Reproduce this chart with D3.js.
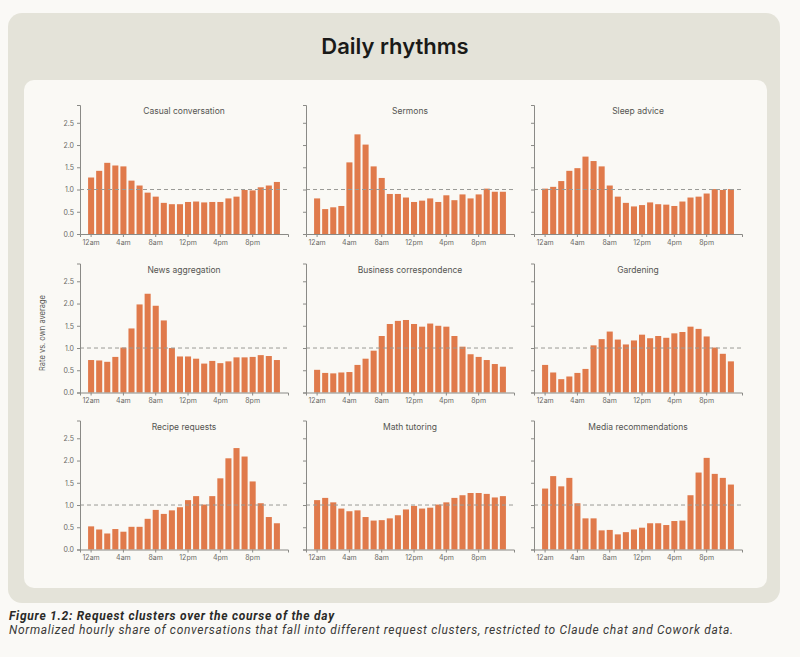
<!DOCTYPE html>
<html>
<head>
<meta charset="utf-8">
<script src="https://cdn.jsdelivr.net/npm/d3@7"></script>
<style>
  body { margin: 0; background: #faf9f6; }
  svg { display: block; }
</style>
</head>
<body>
<svg id="chart" width="800" height="657"></svg>
<script>
// hourly rate vs. own average, 12am .. 11pm
const hourTicks = [0, 4, 8, 12, 16, 20];
const hourLabels = ['12am', '4am', '8am', '12pm', '4pm', '8pm'];
const yTicks = [0, 0.5, 1, 1.5, 2, 2.5];

const clusterNames = [
    'Casual conversation', 'Sermons', 'Sleep advice',
    'News aggregation', 'Business correspondence', 'Gardening',
    'Recipe requests', 'Math tutoring', 'Media recommendations'
];

const casualConversation = [1.27, 1.42, 1.60, 1.54, 1.52, 1.20, 1.09, 0.93, 0.84, 0.70, 0.67, 0.67,
    0.72, 0.73, 0.71, 0.72, 0.72, 0.80, 0.84, 0.99, 0.98, 1.05, 1.09, 1.17];
const sermons = [0.80, 0.56, 0.60, 0.63, 1.61, 2.24, 2.01, 1.52, 1.26, 0.90, 0.90, 0.82,
    0.72, 0.75, 0.80, 0.72, 0.87, 0.76, 0.89, 0.80, 0.89, 1.02, 0.95, 0.95];
const sleepAdvice = [1.02, 1.06, 1.19, 1.42, 1.48, 1.74, 1.64, 1.52, 1.09, 0.84, 0.70, 0.62,
    0.65, 0.71, 0.67, 0.66, 0.63, 0.73, 0.82, 0.84, 0.91, 1.01, 0.99, 1.01];
const newsAggregation = [0.73, 0.72, 0.69, 0.80, 1.01, 1.44, 1.98, 2.22, 1.95, 1.62, 1.00, 0.81,
    0.81, 0.76, 0.65, 0.71, 0.66, 0.70, 0.79, 0.79, 0.80, 0.84, 0.82, 0.73];
const businessCorrespondence = [0.51, 0.44, 0.43, 0.45, 0.46, 0.62, 0.76, 0.94, 1.27, 1.54, 1.61, 1.63,
    1.54, 1.48, 1.55, 1.50, 1.48, 1.27, 1.03, 0.86, 0.80, 0.73, 0.64, 0.58];
const gardening = [0.62, 0.45, 0.30, 0.36, 0.44, 0.53, 1.06, 1.20, 1.37, 1.19, 1.08, 1.17,
    1.30, 1.22, 1.27, 1.23, 1.33, 1.36, 1.48, 1.43, 1.26, 1.01, 0.87, 0.70];
const recipeRequests = [0.52, 0.45, 0.36, 0.46, 0.40, 0.51, 0.51, 0.69, 0.89, 0.80, 0.88, 0.95,
    1.11, 1.20, 1.01, 1.20, 1.60, 2.05, 2.28, 2.09, 1.53, 1.04, 0.73, 0.59];
const mathTutoring = [1.11, 1.16, 1.06, 0.92, 0.86, 0.88, 0.73, 0.65, 0.66, 0.70, 0.77, 0.90,
    0.98, 0.92, 0.94, 1.01, 1.06, 1.16, 1.22, 1.27, 1.27, 1.25, 1.17, 1.20];
const mediaRecommendations = [1.37, 1.65, 1.42, 1.61, 1.04, 0.70, 0.70, 0.43, 0.44, 0.34, 0.39, 0.45,
    0.49, 0.59, 0.59, 0.55, 0.64, 0.65, 1.22, 1.73, 2.06, 1.70, 1.61, 1.46];

const clusterValues = [
    casualConversation, sermons, sleepAdvice,
    newsAggregation, businessCorrespondence, gardening,
    recipeRequests, mathTutoring, mediaRecommendations
];

const barColor = '#e07a4b';
const axisColor = '#8a8a86';
const labelFont = 'Inter, "Open Sans", sans-serif';

const svg = d3.select('#chart');

// outer card + inner panel
svg.append('rect')
    .attr('x', 8).attr('y', 13).attr('width', 772).attr('height', 590)
    .attr('rx', 14).attr('fill', '#e4e3d9');
svg.append('rect')
    .attr('x', 24).attr('y', 80).attr('width', 743).attr('height', 508)
    .attr('rx', 10).attr('fill', '#faf9f5');

svg.append('text')
    .attr('x', 395).attr('y', 54)
    .attr('text-anchor', 'middle')
    .attr('font-family', labelFont)
    .attr('font-weight', 600)
    .attr('font-size', 22)
    .attr('fill', '#1a1a18')
    .text('Daily rhythms');

const colX = [80, 306, 534];
const rowZero = [234, 392.5, 549.5];
const plotW = 208;
const plotH = 129;

const yScale = d3.scaleLinear().domain([0, 2.9]).range([plotH, 0]);
const xScale = d3.scaleBand()
    .domain(d3.range(24))
    .range([0, plotW])
    .paddingInner(0.25)
    .paddingOuter(1);

clusterNames.forEach((name, i) => {
    const col = i % 3;
    const row = Math.floor(i / 3);
    const values = clusterValues[i];
    const g = svg.append('g')
        .attr('transform', `translate(${colX[col]}, ${rowZero[row] - plotH})`);

    g.selectAll('rect.bar')
        .data(values)
        .enter()
        .append('rect')
        .attr('class', 'bar')
        .attr('x', (_, h) => xScale(h))
        .attr('width', xScale.bandwidth())
        .attr('y', d => yScale(d))
        .attr('height', d => plotH - yScale(d))
        .attr('fill', barColor);

    g.append('line')
        .attr('x1', 0).attr('x2', plotW)
        .attr('y1', yScale(1)).attr('y2', yScale(1))
        .attr('stroke', '#9a9a96')
        .attr('stroke-width', 1)
        .attr('stroke-dasharray', '4,3');

    const yAxis = d3.axisLeft(yScale)
        .tickValues(yTicks)
        .tickSize(3)
        .tickFormat(col === 0 ? d3.format('.1f') : () => '');
    const ya = g.append('g').call(yAxis);

    const xAxis = d3.axisBottom(xScale)
        .tickValues(hourTicks)
        .tickSize(3)
        .tickFormat((_, k) => hourLabels[k]);
    const xa = g.append('g')
        .attr('transform', `translate(0, ${plotH})`)
        .call(xAxis);

    [ya, xa].forEach(a => {
        a.select('.domain').attr('stroke', axisColor);
        a.selectAll('.tick line').attr('stroke', axisColor);
        a.selectAll('.tick text')
            .attr('fill', '#6a6a66')
            .attr('font-family', labelFont)
            .attr('font-size', 7);
    });

    g.append('text')
        .attr('x', plotW / 2)
        .attr('y', 9)
        .attr('text-anchor', 'middle')
        .attr('font-family', labelFont)
        .attr('font-size', 8.5)
        .attr('fill', '#555552')
        .text(name);
});

svg.append('text')
    .attr('transform', 'translate(45, 333) rotate(-90)')
    .attr('text-anchor', 'middle')
    .attr('font-family', labelFont)
    .attr('font-size', 7.5)
    .attr('fill', '#555552')
    .text('Rate vs. own average');

// caption
svg.append('text')
    .attr('x', 9).attr('y', 620)
    .attr('font-family', 'Roboto, sans-serif')
    .attr('font-style', 'italic')
    .attr('font-weight', 700)
    .attr('font-size', 12)
    .attr('textLength', 325)
    .attr('lengthAdjust', 'spacing')
    .attr('fill', '#2a2a28')
    .text('Figure 1.2: Request clusters over the course of the day');
svg.append('text')
    .attr('x', 9).attr('y', 634)
    .attr('font-family', 'Roboto, sans-serif')
    .attr('font-style', 'italic')
    .attr('font-size', 12)
    .attr('textLength', 724)
    .attr('lengthAdjust', 'spacing')
    .attr('fill', '#3a3a38')
    .text('Normalized hourly share of conversations that fall into different request clusters, restricted to Claude chat and Cowork data.');
</script>
</body>
</html>
